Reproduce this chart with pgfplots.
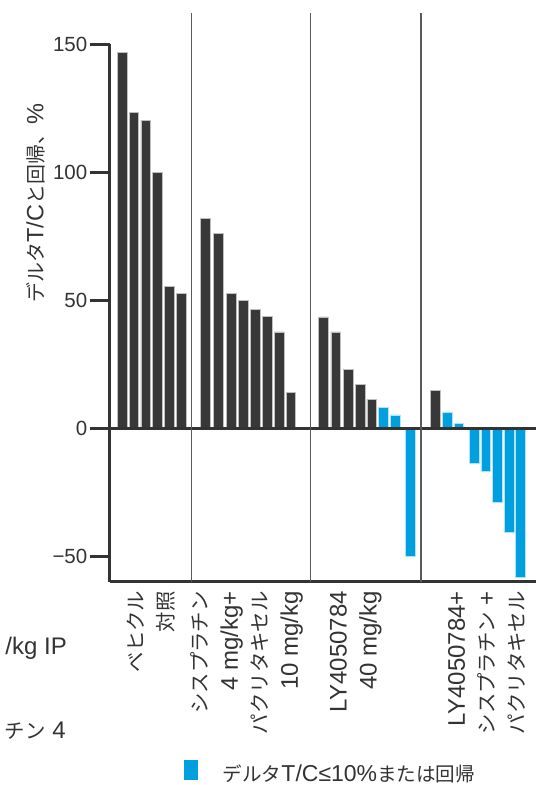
\documentclass[border=0pt]{standalone}
\usepackage{fontspec}
\setmainfont{Liberation Sans}
\newfontfamily\jp{Noto Sans CJK JP}[Scale=0.85]
\usepackage{pgfplots}
\pgfplotsset{compat=1.18}
\definecolor{bardark}{HTML}{383838}
\definecolor{barblue}{HTML}{009FDF}
\definecolor{txt}{HTML}{333333}
\definecolor{sepc}{HTML}{5A5A5A}
\begin{document}
\begin{tikzpicture}
\begin{axis}[
  at={(109.5bp,203.5bp)}, anchor=south west,
  scale only axis, width=426.5bp, height=537.1bp,
  xmin=109.5, xmax=536, ymin=-59.8, ymax=150,
  axis x line*=bottom, axis y line*=left,
  axis line style={line width=3bp, color=txt, -},
  clip=false,
  ytick={-50,0,50,100,150},
  yticklabels={−50,0,50,100,150},
  tick align=outside,
  major tick length=19.5bp,
  ytick style={line width=3bp, color=txt},
  yticklabel style={font=\fontsize{20.5bp}{24bp}\selectfont, text=txt, inner sep=2.5bp},
  xtick={151.5,247,355.75,487},
  xticklabels={
    {{\jp ベヒクル}\\{\jp 対照}},
    {{\jp シスプラチン}\\4 mg/kg+\\{\jp パクリタキセル}\\10 mg/kg},
    {LY4050784\\40 mg/kg},
    {LY4050784+\\{\jp シスプラチン} +\\{\jp パクリタキセル}}},
  xtick style={draw=none},
  xticklabel shift=-10bp,
  xticklabel style={rotate=90, anchor=east, align=right, font=\fontsize{24bp}{30bp}\selectfont, text=txt, inner sep=0pt},
  ylabel={{\jp デルタ}T/C{\jp と回帰、}\%},
  ylabel style={at={(axis description cs:-0.173,0.704)}, anchor=center, font=\fontsize{23.5bp}{28bp}\selectfont, text=txt},
  ybar, bar width=9.6,
  legend style={at={(axis description cs:0.175,-0.355)}, anchor=west, draw=none, fill=none, inner sep=0pt,
    font=\fontsize{23bp}{28bp}\selectfont, text=txt,
    /tikz/every odd column/.append style={column sep=23bp}},
  legend image code/.code={\fill[barblue] (0bp,-5bp) rectangle (13bp,14bp);},
]
\addplot[fill=bardark, draw=white!75!black, line width=0.5bp, bar shift=0pt, forget plot] coordinates {
  (122,147) (133.8,123.4) (145.7,120.4) (157.5,100) (169.3,55.6) (181.1,52.6)
  (205.2,82) (218,76.2) (231,52.6) (243.5,50) (255.5,46.6) (267,43.7) (279,37.7) (290.9,14.2)
  (323.3,43.6) (335.7,37.7) (348.3,23) (360,17.2) (371.7,11.3)
  (435,15)
};
\addplot[fill=barblue, draw=white!70!barblue, line width=0.5bp, bar shift=0pt] coordinates {
  (383.3,8.3) (395.3,5.3) (410.3,-50)
  (447,6.4) (458.7,1.9) (474,-13.8) (485.7,-16.8) (497.3,-28.7) (509,-40.5) (520.5,-58.1)
};
\addlegendentry{{\jp デルタ}T/C≤10\%{\jp または回帰}}
\draw[line width=3bp, color=txt] (axis cs:109.5,0) -- (axis cs:536,0);
\draw[line width=1.5bp, color=sepc] (axis cs:191.7,-59.8) -- (axis cs:191.7,162.2);
\draw[line width=1.5bp, color=sepc] (axis cs:310.5,-59.8) -- (axis cs:310.5,162.2);
\draw[line width=1.5bp, color=sepc] (axis cs:421,-59.8) -- (axis cs:421,162.2);
\end{axis}
\node[anchor=east, inner sep=0pt, text=txt, font=\fontsize{24bp}{28bp}\selectfont] at (67bp,137bp) {/kg IP};
\node[anchor=east, inner sep=0pt, text=txt, font=\fontsize{24bp}{28bp}\selectfont] at (66bp,54bp) {{\jp チン} 4};
\pgfresetboundingbox
\useasboundingbox (0,0) rectangle (536bp,785bp);
\end{tikzpicture}
\end{document}
